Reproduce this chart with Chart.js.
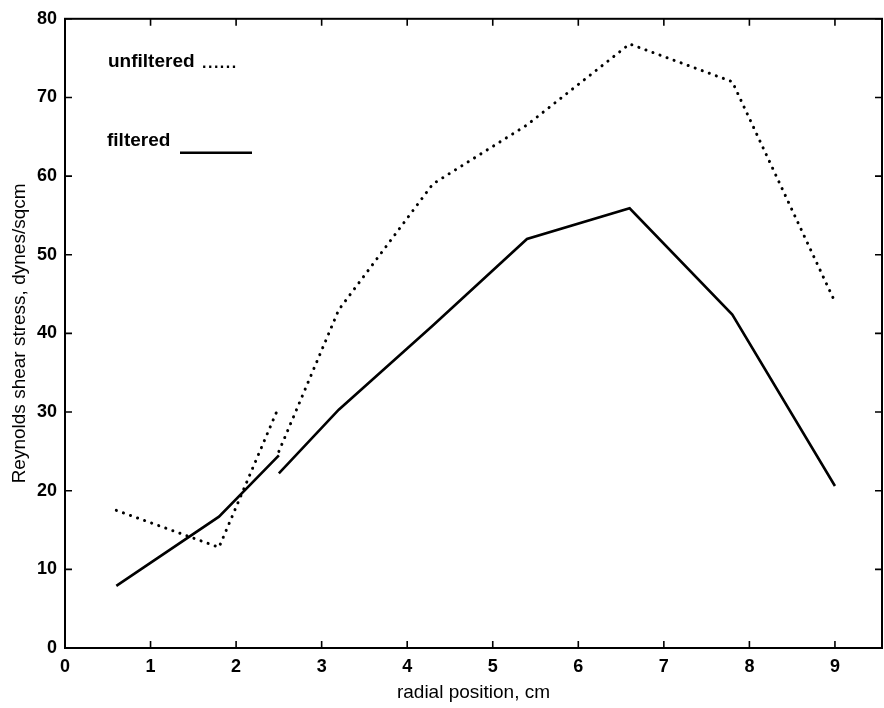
<!DOCTYPE html>
<html>
<head>
<meta charset="utf-8">
<script src="https://cdn.jsdelivr.net/npm/chart.js@4.4.1/dist/chart.umd.min.js"></script>
<style>
  html, body { margin: 0; padding: 0; background: #fff; }
  #wrap { width: 884px; height: 708px; position: relative; }
</style>
</head>
<body>
<div id="wrap"><canvas id="chart" width="884" height="708"></canvas></div>
<script>
// Datos (dos tramos: la curva se corta en 2.5 cm)
const radialA = [0.6, 1.8, 2.5];
const unfilteredA = [17.5, 12.8, 30.7];
const filteredA = [7.9, 16.7, 24.5];

const radialB = [2.5, 3.2, 4.3, 5.4, 6.6, 7.8, 9.0];
const unfilteredB = [25.0, 43.0, 59.0, 66.5, 76.8, 72.0, 44.0];
const filteredB = [22.2, 30.3, 41.0, 52.0, 55.9, 42.4, 20.6];

const xTicks = [0, 1, 2, 3, 4, 5, 6, 7, 8, 9];
const yTicks = [0, 10, 20, 30, 40, 50, 60, 70, 80];

const FONT = "'Liberation Sans Narrow', 'Liberation Sans', Arial, sans-serif";

function toPoints(xs, ys) {
  return xs.map((x, i) => ({ x: x, y: ys[i] }));
}

const dotted = {
  borderColor: '#000',
  borderWidth: 3,
  borderDash: [0.1, 7.4],
  borderCapStyle: 'round',
  pointRadius: 0,
  fill: false,
  tension: 0
};
const solid = {
  borderColor: '#000',
  borderWidth: 2.6,
  pointRadius: 0,
  fill: false,
  tension: 0
};

// Marco, marcas hacia dentro y leyenda escrita a mano
const framePlugin = {
  id: 'frame',
  afterDraw(chart) {
    const { ctx, chartArea: a, scales } = chart;
    ctx.save();
    ctx.strokeStyle = '#000';
    ctx.lineWidth = 2;
    ctx.strokeRect(a.left, a.top, a.right - a.left, a.bottom - a.top);

    ctx.lineWidth = 1.6;
    const tl = 7;
    xTicks.forEach(v => {
      const px = scales.x.getPixelForValue(v);
      ctx.beginPath();
      ctx.moveTo(px, a.bottom); ctx.lineTo(px, a.bottom - tl);
      ctx.moveTo(px, a.top); ctx.lineTo(px, a.top + tl);
      ctx.stroke();
    });
    yTicks.forEach(v => {
      const py = scales.y.getPixelForValue(v);
      ctx.beginPath();
      ctx.moveTo(a.left, py); ctx.lineTo(a.left + tl, py);
      ctx.moveTo(a.right, py); ctx.lineTo(a.right - tl, py);
      ctx.stroke();
    });

    // leyenda
    ctx.fillStyle = '#000';
    ctx.font = 'bold 19px ' + FONT;
    ctx.textBaseline = 'middle';
    ctx.textAlign = 'left';
    ctx.fillText('unfiltered', a.left + 43, a.top + 43);
    ctx.fillText('filtered', a.left + 42, a.top + 122);
    // los puntos de "unfiltered ......", más separados
    ctx.font = 'bold 16px ' + FONT;
    ctx.letterSpacing = '1.5px';
    ctx.fillText('......', a.left + 137, a.top + 45);
    ctx.letterSpacing = '0px';

    ctx.lineWidth = 2.4;
    ctx.beginPath();
    ctx.moveTo(a.left + 115, a.top + 134);
    ctx.lineTo(a.left + 187, a.top + 134);
    ctx.stroke();
    ctx.restore();
  }
};

new Chart(document.getElementById('chart'), {
  type: 'line',
  data: {
    datasets: [
      Object.assign({ label: 'unfiltered', data: toPoints(radialA, unfilteredA) }, dotted),
      Object.assign({ label: 'unfiltered', data: toPoints(radialB, unfilteredB) }, dotted),
      Object.assign({ label: 'filtered', data: toPoints(radialA, filteredA) }, solid),
      Object.assign({ label: 'filtered', data: toPoints(radialB, filteredB) }, solid)
    ]
  },
  options: {
    responsive: false,
    animation: false,
    layout: { padding: { top: 15, right: 2, left: 8, bottom: 4 } },
    plugins: {
      legend: { display: false },
      tooltip: { enabled: false }
    },
    scales: {
      x: {
        type: 'linear',
        min: 0,
        max: 9.55,
        grid: { display: false, drawTicks: false },
        border: { display: false },
        afterBuildTicks: (scale) => { scale.ticks = xTicks.map(v => ({ value: v })); },
        afterFit: (scale) => { scale.height = 56; },
        ticks: {
          color: '#000',
          padding: 8,
          maxRotation: 0,
          font: { family: FONT, size: 18, weight: 'bold' }
        },
        title: {
          display: true,
          text: 'radial position, cm',
          color: '#000',
          padding: { top: 0, bottom: 0 },
          font: { family: FONT, size: 19 }
        }
      },
      y: {
        min: 0,
        max: 80,
        grid: { display: false, drawTicks: false },
        border: { display: false },
        afterBuildTicks: (scale) => { scale.ticks = yTicks.map(v => ({ value: v })); },
        afterFit: (scale) => { scale.width = 57; },
        ticks: {
          color: '#000',
          padding: 8,
          font: { family: FONT, size: 18, weight: 'bold' }
        },
        title: {
          display: true,
          text: 'Reynolds shear stress, dynes/sqcm',
          color: '#000',
          padding: { top: 0, bottom: 0 },
          font: { family: FONT, size: 19 }
        }
      }
    }
  },
  plugins: [framePlugin]
});
</script>
</body>
</html>
